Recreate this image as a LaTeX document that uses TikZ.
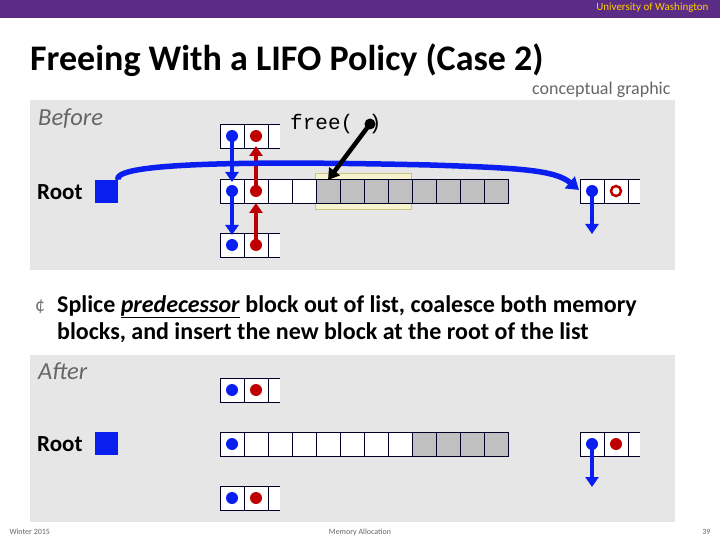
\documentclass[tikz,border=0pt]{standalone}
\usepackage{fontspec}
\setmainfont{Carlito}
\newfontfamily\monof{Liberation Mono}
\usetikzlibrary{arrows.meta}
\definecolor{uwpurple}{HTML}{5B2C86}
\definecolor{panel}{HTML}{E6E6E6}
\definecolor{dotblue}{HTML}{0A1EF0}
\definecolor{dotred}{HTML}{C00000}
\definecolor{cellgray}{HTML}{C0C0C0}
\definecolor{hilite}{HTML}{F7F3CE}
\begin{document}
\begin{tikzpicture}[x=1pt,y=-1pt,
  cell/.style={draw=black!85!blue,line width=0.6pt},
  bdot/.style={circle,fill=dotblue,inner sep=0pt,minimum size=12pt},
  rdot/.style={circle,fill=dotred,inner sep=0pt,minimum size=12pt},
  barrow/.style={draw=dotblue,line width=4pt,-{Triangle[length=10pt,width=13pt]}},
  rarrow/.style={draw=dotred,line width=4pt,-{Triangle[length=10pt,width=13pt]}},
  lbl/.style={anchor=west,inner sep=0pt,font=\fontsize{23}{26}\selectfont\bfseries}]
\useasboundingbox (0,0) rectangle (720,540);
\fill[white] (0,0) rectangle (720,540);
\fill[uwpurple] (0,0) rectangle (720,18);
\node[anchor=east,text=orange!40!yellow,font=\fontsize{11}{12}\selectfont] (uw) at (712,8) {University of Washington};
\node[anchor=west,inner sep=0pt,font=\fontsize{36}{40}\selectfont\bfseries] (title) at (30,60) {Freeing With a LIFO Policy (Case 2)};
\node[anchor=east,text=black!60,font=\fontsize{18}{20}\selectfont] (cg) at (674,90) {conceptual graphic};
% panels
\fill[panel] (30,100) rectangle (675,270);
\fill[panel] (30,355) rectangle (675,522);
% ===== BEFORE =====
\node[lbl,text=black!60,font=\fontsize{24.5}{26}\selectfont\itshape] (before) at (38,119) {Before};
\node[lbl] (root1) at (37,192) {Root};
\node[fill=dotblue,minimum size=23pt,inner sep=0pt] (rb1) at (106.5,191.5) {};
% top block
\fill[white] (220,124) rectangle (280,148);
\draw[cell] (280,124) -- (220,124) -- (220,148) -- (280,148) (244,124)--(244,148) (268,124)--(268,148);
% middle long block
\fill[hilite] (315,173) rectangle (411,209);
\draw[draw=black!40!yellow!60!white,line width=0.8pt] (315,173) rectangle (411,209);
\fill[white] (220,179) rectangle (316,203);
\fill[cellgray] (316,179) rectangle (508,203);
\foreach \i in {0,...,11}{\draw[cell] (220+24*\i,179) rectangle (244+24*\i,203);}
% bottom block
\fill[white] (220,233) rectangle (280,257);
\draw[cell] (280,233) -- (220,233) -- (220,257) -- (280,257) (244,233)--(244,257) (268,233)--(268,257);
% right block
\fill[white] (580,179) rectangle (640,203);
\draw[cell] (640,179) -- (580,179) -- (580,203) -- (640,203) (604,179)--(604,203) (628,179)--(628,203);
% dots
\node[bdot] (b1) at (232,136) {};
\node[rdot] (r1) at (256,136) {};
\node[bdot] (b2) at (232,191) {};
\node[rdot] (r2) at (256,191) {};
\node[bdot] (b3) at (232,245) {};
\node[rdot] (r3) at (256,245) {};
\node[bdot] (b4) at (592,191) {};
\node[circle,draw=dotred,line width=2.5pt,inner sep=0pt,minimum size=10pt] (r4) at (616,191) {};
\coordinate (b4e) at (592,234);
% links
\draw[barrow] (b1.center) -- (232,182);
\draw[rarrow] (r2.center) -- (256,146);
\draw[barrow] (b2.center) -- (232,235);
\draw[rarrow] (r3.center) -- (256,203);
\draw[barrow] (b4.center) -- (b4e);
\draw[draw=dotblue,line width=5.5pt,-{Triangle[length=12pt,width=15pt]}]
  (rb1.north east) .. controls (110,160) and (300,162) .. (430,165)
  .. controls (520,168) and (555,170) .. (579,190);
% free
\node[anchor=west,inner sep=0pt,font=\monof\fontsize{21}{22}\selectfont] (free) at (290,124) {free(\hspace{0.75em})};
\node[circle,fill=black,inner sep=0pt,minimum size=11pt] (fp) at (370,124) {};
\coordinate (fpe) at (328,180);
\draw[line width=4.5pt,-{Triangle[length=11pt,width=13pt]}] (fp.center) -- (fpe);
% bullet text
\node[anchor=west,inner sep=0pt,text=black!55,font=\fontsize{20}{20}\selectfont] (bul) at (35,307) {¢};
\node[lbl,align=left,anchor=north west,font=\fontsize{24}{27}\selectfont\bfseries] (txt) at (57,295) {Splice \underline{\textit{predecessor}} block out of list, coalesce both memory\\blocks, and insert the new block at the root of the list};
% ===== AFTER =====
\node[lbl,text=black!60,font=\fontsize{24.5}{26}\selectfont\itshape] (after) at (38,371) {After};
\node[lbl] (root2) at (37,444) {Root};
\node[fill=dotblue,minimum size=23pt,inner sep=0pt] (rb2) at (106.5,443.5) {};
\fill[white] (220,378) rectangle (280,402);
\draw[cell] (280,378) -- (220,378) -- (220,402) -- (280,402) (244,378)--(244,402) (268,378)--(268,402);
\fill[white] (220,432) rectangle (412,456);
\fill[cellgray] (412,432) rectangle (508,456);
\foreach \i in {0,...,11}{\draw[cell] (220+24*\i,432) rectangle (244+24*\i,456);}
\fill[white] (220,486) rectangle (280,510);
\draw[cell] (280,486) -- (220,486) -- (220,510) -- (280,510) (244,486)--(244,510) (268,486)--(268,510);
\fill[white] (580,432) rectangle (640,456);
\draw[cell] (640,432) -- (580,432) -- (580,456) -- (640,456) (604,432)--(604,456) (628,432)--(628,456);
\node[bdot] (a1) at (232,390) {};
\node[rdot] (ar1) at (256,390) {};
\node[bdot] (a2) at (232,444) {};
\node[bdot] (a3) at (232,498) {};
\node[rdot] (ar3) at (256,498) {};
\node[bdot] (a4) at (592,444) {};
\node[rdot] (ar4) at (616,444) {};
\coordinate (a4e) at (592,487);
\draw[barrow] (a4.center) -- (a4e);
% footer
\node[anchor=west,text=black!60,font=\fontsize{8}{10}\selectfont] (f1) at (6,532) {Winter 2015};
\node[text=black!60,font=\fontsize{8}{10}\selectfont] (f2) at (360,532) {Memory Allocation};
\node[anchor=east,text=black!60,font=\fontsize{8}{10}\selectfont] (f3) at (714,532) {39};
\end{tikzpicture}
\end{document}
